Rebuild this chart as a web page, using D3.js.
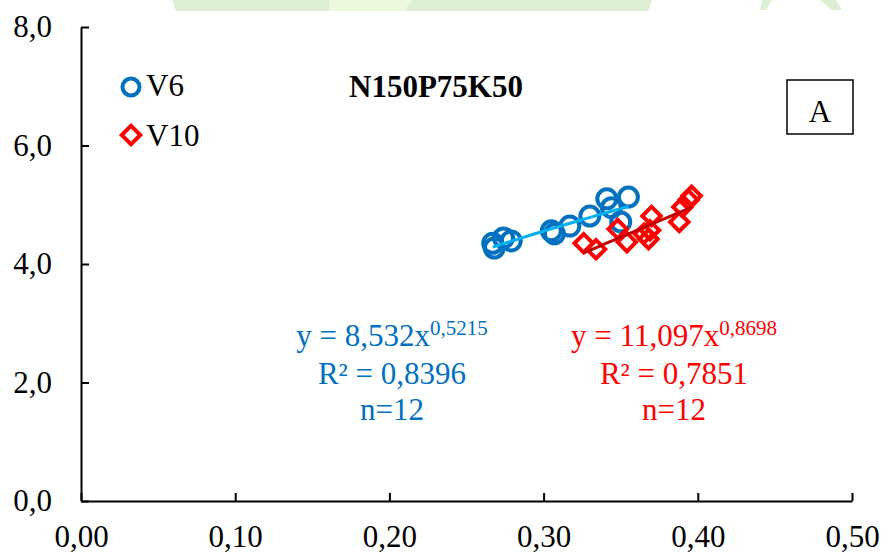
<!DOCTYPE html>
<html>
<head>
<meta charset="utf-8">
<script src="https://cdn.jsdelivr.net/npm/d3@7"></script>
<style>
body { margin: 0; background: #fff; }
text { font-family: "Liberation Serif", "Times New Roman", serif; }
</style>
</head>
<body>
<script>
// values (x = first value, y = second value)
var v6_x = [0.267, 0.268, 0.274, 0.279, 0.305, 0.307, 0.317, 0.330, 0.341, 0.344, 0.350, 0.355]
var v6_y = [4.35, 4.27, 4.44, 4.39, 4.56, 4.51, 4.64, 4.81, 5.10, 4.95, 4.71, 5.13]
var v10_x = [0.326, 0.334, 0.348, 0.354, 0.365, 0.370, 0.369, 0.368, 0.388, 0.390, 0.394, 0.396]
var v10_y = [4.35, 4.25, 4.59, 4.37, 4.51, 4.81, 4.57, 4.42, 4.71, 4.96, 5.08, 5.15]

// power trendlines y = a * x^b, coefficients as printed on the chart
var v6_fit = [8.532, 0.5215]
var v10_fit = [11.097, 0.8698]

var x_ticks = [0, 0.1, 0.2, 0.3, 0.4, 0.5]
var y_ticks = [0, 2, 4, 6, 8]

var series_names = ['V6', 'V10']
var eq_v6 = ['y = 8,532x', '0,5215', 'R² = 0,8396', 'n=12']
var eq_v10 = ['y = 11,097x', '0,8698', 'R² = 0,7851', 'n=12']

function plot_it() {
	width = 882
	height = 553
	left = 81
	right = 852
	top_y = 27
	bottom = 501
	font_size = 31
	tick_size = 31

	blue = '#0070C0'
	red = '#FF0000'

	var loc = d3.formatLocale({decimal: ',', thousands: '.', grouping: [3], currency: ['', '']})

	var svg = d3.select('body').append('svg').attr('width', width).attr('height', height)

	// faint watermark band at the top of the picture
	svg.append('path').attr('d', 'M172,0 L652,0 L648,11 L176,11 Z').attr('fill', '#dcefd2')
	svg.append('path').attr('d', 'M329,0 L412,0 L404,11 L329,11 Z').attr('fill', '#eef9dc')
	svg.append('path').attr('d', 'M762,0 L772,0 L766,10 L760,10 Z').attr('fill', '#dcefd2')
	svg.append('path').attr('d', 'M820,0 L836,0 L842,10 L832,10 Z').attr('fill', '#dcefd2')

	var x = d3.scaleLinear().domain([0, 0.5]).range([left, right])
	var y = d3.scaleLinear().domain([0, 8]).range([bottom, top_y])

//axes
	svg.append('g').attr('transform', 'translate(0,' + bottom + ')')
		.call(d3.axisBottom(x).tickValues(x_ticks).tickFormat(loc.format('.2f')).tickSize(-8).tickSizeOuter(0).tickPadding(24))
	svg.append('g').attr('transform', 'translate(' + left + ',0)')
		.call(d3.axisLeft(y).tickValues(y_ticks).tickFormat(loc.format('.1f')).tickSize(-8).tickSizeOuter(0).tickPadding(29))
	svg.selectAll('.domain').attr('stroke', '#000').attr('stroke-width', 2)
	svg.selectAll('.tick line').attr('stroke', '#000').attr('stroke-width', 2)
	svg.selectAll('.tick text').attr('fill', '#000').style('font-size', tick_size + 'px').style('font-family', '"Liberation Serif", serif')

//points
	var diamond = d3.symbol().type(d3.symbolSquare).size(170)

	svg.append('g').selectAll('circle').data(d3.range(v6_x.length)).enter().append('circle')
		.attr('cx', function(i) { return x(v6_x[i]) }).attr('cy', function(i) { return y(v6_y[i]) })
		.attr('r', 9.5).attr('fill', 'none').attr('stroke', blue).attr('stroke-width', 4)

	svg.append('g').selectAll('path').data(d3.range(v10_x.length)).enter().append('path')
		.attr('d', diamond)
		.attr('transform', function(i) { return 'translate(' + x(v10_x[i]) + ',' + y(v10_y[i]) + ') rotate(45)' })
		.attr('fill', 'none').attr('stroke', red).attr('stroke-width', 4)

//trendlines
	function fit_line(xs, fit) {
		var lo = d3.min(xs), hi = d3.max(xs)
		var pts = d3.range(0, 21).map(function(k) { var xv = lo + (hi - lo) * k / 20; return [xv, fit[0] * Math.pow(xv, fit[1])] })
		return d3.line().x(function(d) { return x(d[0]) }).y(function(d) { return y(d[1]) })(pts)
	}
	svg.append('path').attr('d', fit_line(v6_x, v6_fit)).attr('fill', 'none').attr('stroke', '#00B0F0').attr('stroke-width', 3)
	svg.append('path').attr('d', fit_line(v10_x, v10_fit)).attr('fill', 'none').attr('stroke', '#C00000').attr('stroke-width', 3)

//legend
	svg.append('circle').attr('cx', 131).attr('cy', 87).attr('r', 8.5).attr('fill', 'none').attr('stroke', blue).attr('stroke-width', 4)
	svg.append('path').attr('d', diamond).attr('transform', 'translate(131,135) rotate(45)').attr('fill', 'none').attr('stroke', red).attr('stroke-width', 4)
	svg.append('text').attr('x', 146).attr('y', 96).style('font-size', font_size + 'px').text(series_names[0])
	svg.append('text').attr('x', 146).attr('y', 146).style('font-size', font_size + 'px').text(series_names[1])

//title and panel letter
	svg.append('text').attr('x', 436).attr('y', 97).attr('text-anchor', 'middle').style('font-size', '31px').style('font-weight', 'bold').text('N150P75K50')
	svg.append('rect').attr('x', 787).attr('y', 80).attr('width', 66).attr('height', 54).attr('fill', 'none').attr('stroke', '#000').attr('stroke-width', 1.5)
	svg.append('text').attr('x', 820).attr('y', 122).attr('text-anchor', 'middle').style('font-size', font_size + 'px').text('A')

//equations
	function equation(cx, lines, color) {
		var t1 = svg.append('text').attr('x', cx).attr('y', 346).attr('text-anchor', 'middle').attr('fill', color).style('font-size', font_size + 'px')
		t1.append('tspan').text(lines[0])
		t1.append('tspan').attr('dy', -11).style('font-size', '21px').text(lines[1])
		svg.append('text').attr('x', cx).attr('y', 384).attr('text-anchor', 'middle').attr('fill', color).style('font-size', font_size + 'px').text(lines[2])
		svg.append('text').attr('x', cx).attr('y', 420).attr('text-anchor', 'middle').attr('fill', color).style('font-size', font_size + 'px').text(lines[3])
	}
	equation(392, eq_v6, blue)
	equation(674, eq_v10, red)
}
plot_it()
</script>
</body>
</html>
